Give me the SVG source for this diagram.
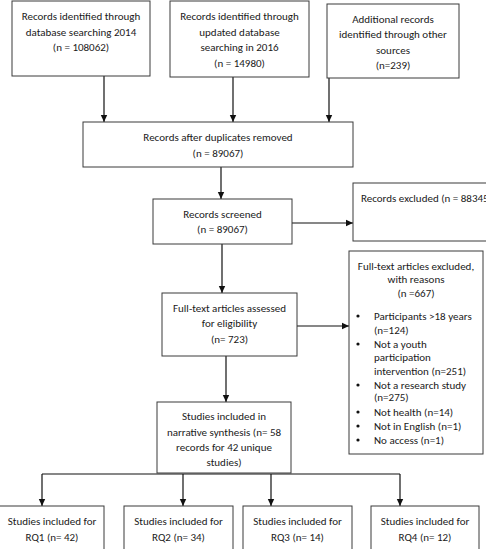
<svg xmlns="http://www.w3.org/2000/svg" width="486" height="549" viewBox="0 0 486 549">
<style>
.b{fill:#fff;stroke:#3a3a3a;stroke-width:1}
text{font-family:Carlito,Lato,"Liberation Sans",sans-serif;font-size:11px;fill:#1a1a1a}
.c{text-anchor:middle}
.l{fill:none;stroke:#111;stroke-width:1.2}
</style>
<defs>
<marker id="ah" markerWidth="8" markerHeight="8" refX="7" refY="4" orient="auto" markerUnits="userSpaceOnUse">
<path d="M0,0.8 L7,4 L0,7.2 Z" fill="#111"/>
</marker>
</defs>
<rect width="486" height="549" fill="#fff"/>
<g id="connectors">
<line class="l" x1="104" y1="76" x2="104" y2="122" marker-end="url(#ah)"/>
<line class="l" x1="233" y1="77" x2="233" y2="122" marker-end="url(#ah)"/>
<line class="l" x1="329" y1="78" x2="329" y2="122" marker-end="url(#ah)"/>
<line class="l" x1="221" y1="167" x2="221" y2="199" marker-end="url(#ah)"/>
<line class="l" x1="292" y1="223" x2="353" y2="223" marker-end="url(#ah)"/>
<line class="l" x1="222" y1="244" x2="222" y2="293" marker-end="url(#ah)"/>
<line class="l" x1="297" y1="326" x2="349" y2="326" marker-end="url(#ah)"/>
<line class="l" x1="226" y1="356" x2="226" y2="402" marker-end="url(#ah)"/>
<polyline class="l" points="42,474 400,474"/>
<line class="l" x1="42" y1="474" x2="42" y2="506" marker-end="url(#ah)"/>
<line class="l" x1="183" y1="474" x2="183" y2="506" marker-end="url(#ah)"/>
<line class="l" x1="271" y1="474" x2="271" y2="506" marker-end="url(#ah)"/>
<line class="l" x1="400" y1="474" x2="400" y2="506" marker-end="url(#ah)"/>
</g>
<g id="n1"><rect class="b" x="12" y="1" width="138" height="75"/>
<text class="c" x="81" y="20">Records identified through</text>
<text class="c" x="81" y="36">database searching 2014</text>
<text class="c" x="81" y="51">(n = 108062)</text></g>
<g id="n2"><rect class="b" x="170" y="1" width="139" height="76"/>
<text class="c" x="239.5" y="20">Records identified through</text>
<text class="c" x="239.5" y="36">updated database</text>
<text class="c" x="239.5" y="51">searching in 2016</text>
<text class="c" x="239.5" y="67">(n = 14980)</text></g>
<g id="n3"><rect class="b" x="327" y="4" width="132" height="74"/>
<text class="c" x="393" y="23">Additional records</text>
<text class="c" x="393" y="38">identified through other</text>
<text class="c" x="393" y="54">sources</text>
<text class="c" x="393" y="69">(n=239)</text></g>
<g id="n4"><rect class="b" x="83" y="122" width="270" height="45"/>
<text class="c" x="218" y="141">Records after duplicates removed</text>
<text class="c" x="218" y="157">(n = 89067)</text></g>
<g id="n5"><rect class="b" x="153" y="199" width="139" height="45"/>
<text class="c" x="222.5" y="218">Records screened</text>
<text class="c" x="222.5" y="233">(n =  89067)</text></g>
<g id="n6"><rect class="b" x="353" y="183" width="140" height="58"/>
<text x="361" y="202">Records excluded (n = 88345</text></g>
<g id="n7"><rect class="b" x="349" y="251" width="134" height="203"/>
<text class="c" x="416" y="270">Full-text articles excluded,</text>
<text class="c" x="416" y="283">with reasons</text>
<text class="c" x="416" y="297">(n =667)</text>
<g>
<circle cx="358" cy="316" r="1.6" fill="#111"/>
<circle cx="358" cy="344" r="1.6" fill="#111"/>
<circle cx="358" cy="385" r="1.6" fill="#111"/>
<circle cx="358" cy="412" r="1.6" fill="#111"/>
<circle cx="358" cy="426" r="1.6" fill="#111"/>
<circle cx="358" cy="440" r="1.6" fill="#111"/>
</g>
<text x="374" y="320">Participants &gt;18 years</text>
<text x="374" y="334">(n=124)</text>
<text x="374" y="348">Not a youth</text>
<text x="374" y="361">participation</text>
<text x="374" y="375">intervention (n=251)</text>
<text x="374" y="389">Not a research study</text>
<text x="374" y="401">(n=275)</text>
<text x="374" y="416">Not health (n=14)</text>
<text x="374" y="430">Not in English (n=1)</text>
<text x="374" y="444">No access (n=1)</text></g>
<g id="n8"><rect class="b" x="162" y="293" width="135" height="63"/>
<text class="c" x="229.5" y="312">Full-text articles assessed</text>
<text class="c" x="229.5" y="327">for eligibility</text>
<text class="c" x="229.5" y="343">(n= 723)</text></g>
<g id="n9"><rect class="b" x="157" y="402" width="134" height="71"/>
<text class="c" x="224" y="420">Studies included in</text>
<text class="c" x="224" y="436">narrative synthesis (n= 58</text>
<text class="c" x="224" y="451">records for 42 unique</text>
<text class="c" x="224" y="466">studies)</text></g>
<g id="rq1"><rect class="b" x="-1" y="506" width="105" height="60"/>
<text class="c" x="52" y="525">Studies included for</text>
<text class="c" x="52" y="541">RQ1 (n= 42)</text></g>
<g id="rq2"><rect class="b" x="124" y="506" width="109" height="60"/>
<text class="c" x="178.5" y="525">Studies included for</text>
<text class="c" x="178.5" y="541">RQ2 (n= 34)</text></g>
<g id="rq3"><rect class="b" x="243" y="506" width="109" height="60"/>
<text class="c" x="297.5" y="525">Studies included for</text>
<text class="c" x="297.5" y="541">RQ3 (n= 14)</text></g>
<g id="rq4"><rect class="b" x="371" y="506" width="108" height="60"/>
<text class="c" x="425" y="525">Studies included for</text>
<text class="c" x="425" y="541">RQ4 (n= 12)</text></g>
</svg>
